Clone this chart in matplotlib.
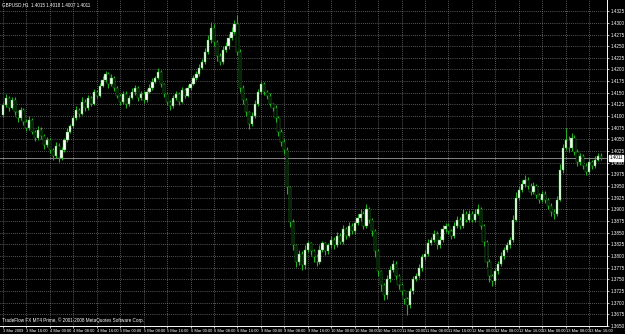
import matplotlib.pyplot as plt

# GBPUSD H1 candlestick chart, MetaTrader style (green on black)
symbol_text = 'GBPUSD,H1  1.4015 1.4018 1.4007 1.4011'
footer_text = 'TradeFlow FX MT4 Prime, \u00a9 2001-2008 MetaQuotes Software Corp.'

first_open = 1.4103
closes = [
    1.4124, 1.4139, 1.4118, 1.4135, 1.4109, 1.4096, 1.4114, 1.4088,
    1.4075, 1.4092, 1.4067, 1.4054, 1.4071, 1.4058, 1.4039, 1.4049,
    1.4028, 1.4015, 1.4037, 1.4011, 1.4028, 1.4049, 1.4067, 1.4079,
    1.4096, 1.4114, 1.4105, 1.4131, 1.4118, 1.4139, 1.4126, 1.4152,
    1.4144, 1.4165, 1.4178, 1.4191, 1.4169, 1.4182, 1.4161, 1.4144,
    1.4131, 1.4148, 1.4126, 1.4139, 1.4152, 1.4161, 1.4139, 1.4148,
    1.4135, 1.4152, 1.4161, 1.4174, 1.4182, 1.4195, 1.4169, 1.4148,
    1.4131, 1.4122, 1.4139, 1.4148, 1.4131, 1.4156, 1.4144, 1.4161,
    1.4169, 1.4182, 1.4191, 1.4203, 1.4216, 1.4238, 1.4263, 1.4289,
    1.4259, 1.4229, 1.4216, 1.4242, 1.4251, 1.4268, 1.4281, 1.4298,
    1.4238, 1.4161, 1.4135, 1.4109, 1.4084, 1.4101, 1.4126, 1.4152,
    1.4169, 1.4152, 1.4144, 1.4126, 1.4118, 1.4096, 1.4067, 1.4045,
    1.4028, 1.3947, 1.3874, 1.3823, 1.3788, 1.3805, 1.3780, 1.3814,
    1.3827, 1.3810, 1.3797, 1.3788, 1.3814, 1.3827, 1.3810, 1.3823,
    1.3835, 1.3823, 1.3844, 1.3831, 1.3857, 1.3844, 1.3865, 1.3853,
    1.3870, 1.3882, 1.3891, 1.3865, 1.3900, 1.3878, 1.3853, 1.3810,
    1.3767, 1.3737, 1.3716, 1.3750, 1.3771, 1.3784, 1.3758, 1.3737,
    1.3724, 1.3707, 1.3694, 1.3724, 1.3750, 1.3758, 1.3775, 1.3797,
    1.3805, 1.3827, 1.3835, 1.3848, 1.3823, 1.3835, 1.3857, 1.3865,
    1.3853, 1.3844, 1.3865, 1.3878, 1.3865, 1.3891, 1.3878, 1.3891,
    1.3878, 1.3891, 1.3900, 1.3865, 1.3831, 1.3788, 1.3758, 1.3746,
    1.3767, 1.3784, 1.3801, 1.3814, 1.3823, 1.3835, 1.3878, 1.3925,
    1.3942, 1.3955, 1.3964, 1.3951, 1.3938, 1.3951, 1.3930, 1.3921,
    1.3934, 1.3921, 1.3908, 1.3895, 1.3891, 1.3921, 1.3985, 1.4032,
    1.4049, 1.4032, 1.4054, 1.4024, 1.4002, 1.4015, 1.3994, 1.3981,
    1.4002, 1.3994, 1.4007, 1.4015, 1.4011,
]

# wick lengths in pips above / below the body
upper_wick = [
    6, 8, 4, 7, 5, 3, 6, 4,
    5, 9, 3, 4, 7, 5, 3, 6,
    4, 3, 8, 5, 6, 4, 7, 5,
    6, 8, 4, 9, 5, 7, 4, 6,
    5, 7, 9, 6, 4, 8, 5, 3,
    4, 6, 5, 7, 8, 6, 4, 5,
    5, 6, 7, 8, 5, 9, 4, 3,
    4, 3, 6, 5, 4, 7, 5, 6,
    5, 7, 6, 8, 6, 9, 10, 12,
    8, 5, 6, 9, 7, 8, 10, 9,
    19, 6, 5, 4, 3, 7, 8, 6,
    7, 5, 4, 6, 3, 5, 4, 6,
    5, 6, 4, 5, 3, 8, 6, 9,
    6, 4, 5, 7, 9, 6, 4, 5,
    7, 5, 8, 6, 9, 5, 8, 6,
    6, 8, 10, 5, 12, 6, 4, 5,
    5, 4, 6, 9, 7, 8, 5, 4,
    5, 4, 6, 8, 7, 6, 9, 8,
    7, 9, 6, 8, 5, 7, 9, 6,
    5, 4, 7, 8, 6, 10, 5, 7,
    6, 9, 11, 5, 4, 3, 5, 4,
    7, 6, 8, 5, 7, 6, 10, 12,
    9, 8, 10, 6, 5, 7, 4, 5,
    6, 5, 4, 5, 6, 8, 12, 9,
    26, 8, 10, 6, 5, 7, 4, 6,
    8, 5, 7, 6, 5,
]
lower_wick = [
    5, 4, 7, 3, 6, 8, 4, 6,
    7, 4, 6, 8, 5, 7, 9, 5,
    8, 10, 5, 9, 6, 4, 5, 3,
    4, 5, 7, 3, 6, 4, 5, 3,
    6, 4, 3, 5, 8, 4, 7, 6,
    7, 4, 8, 5, 3, 6, 7, 4,
    6, 4, 3, 5, 4, 3, 7, 6,
    8, 9, 5, 4, 7, 3, 6, 4,
    4, 3, 5, 4, 3, 4, 5, 6,
    8, 10, 7, 5, 4, 6, 5, 4,
    8, 10, 9, 8, 12, 6, 5, 4,
    5, 6, 7, 5, 8, 9, 10, 8,
    9, 14, 12, 10, 11, 8, 10, 7,
    6, 8, 9, 10, 6, 5, 7, 6,
    5, 7, 4, 6, 5, 7, 4, 6,
    5, 4, 6, 8, 5, 7, 9, 12,
    10, 12, 10, 8, 6, 5, 8, 7,
    8, 10, 20, 6, 5, 4, 5, 6,
    6, 5, 4, 5, 8, 6, 4, 5,
    6, 8, 5, 4, 7, 5, 6, 4,
    5, 4, 3, 7, 9, 12, 14, 10,
    8, 6, 5, 7, 6, 5, 4, 3,
    5, 4, 6, 7, 8, 5, 6, 7,
    6, 8, 7, 9, 12, 5, 4, 6,
    5, 8, 6, 7, 9, 6, 8, 7,
    6, 8, 5, 4, 6,
]

time_labels = [
    '3 Mar 2009', '3 Mar 16:00', '4 Mar 00:00', '4 Mar 08:00', '4 Mar 16:00',
    '5 Mar 00:00', '5 Mar 08:00', '5 Mar 16:00', '6 Mar 00:00', '6 Mar 08:00',
    '6 Mar 16:00', '9 Mar 00:00', '9 Mar 08:00', '9 Mar 16:00', '10 Mar 00:00',
    '10 Mar 08:00', '10 Mar 16:00', '11 Mar 00:00', '11 Mar 08:00', '11 Mar 16:00',
    '12 Mar 00:00', '12 Mar 08:00', '12 Mar 16:00', '13 Mar 00:00', '13 Mar 08:00',
    '13 Mar 16:00',
]
price_ticks = [1.3650 + 0.0025 * k for k in range(28)]
current_price = closes[-1]

plt.rcParams['font.family'] = ['Liberation Sans Narrow', 'Liberation Sans', 'DejaVu Sans']

# build OHLC
opens = [first_open] + closes[:-1]
highs = [max(o, c) + u * 0.0001 for o, c, u in zip(opens, closes, upper_wick)]
lows = [min(o, c) - d * 0.0001 for o, c, d in zip(opens, closes, lower_wick)]
xs = list(range(len(closes)))

green = '#22b022'
fs = 3.3
fig = plt.figure(figsize=(6.25, 3.34), dpi=100, facecolor='black')
ax = fig.add_axes([0, 8 / 334, 607 / 625, 326 / 334], facecolor='black')

ax.vlines(xs, lows, highs, color=green, linewidth=0.8, zorder=2)
bottoms = [min(o, c) for o, c in zip(opens, closes)]
heights = [max(abs(c - o), 0.00006) for o, c in zip(opens, closes)]
body_colors = ['white' if c >= o else 'black' for o, c in zip(opens, closes)]
ax.bar(xs, heights, bottom=bottoms, width=0.78, color=body_colors,
       edgecolor=green, linewidth=0.3, zorder=3)

ax.axhline(current_price, color='#9a9a9a', linewidth=0.6, zorder=1)

ax.set_xlim(-1.0, 206.1)
ax.set_ylim(1.3652, 1.4349)

ax.set_xticks([8 * k for k in range(len(time_labels))])
ax.set_xticklabels(time_labels, ha='left')
ax.set_yticks(price_ticks)
ax.set_yticklabels(['%.4f' % p for p in price_ticks])
ax.yaxis.tick_right()
ax.tick_params(axis='both', colors='white', labelsize=fs, length=1.5,
               width=0.5, pad=0.8)
ax.tick_params(axis='x', labelsize=2.9, pad=0.3)
ax.grid(True, color='#a8a8a8', linestyle=(0, (1, 2)), linewidth=0.5)
ax.set_axisbelow(True)

for side in ['top', 'left']:
    ax.spines[side].set_visible(False)
for side in ['right', 'bottom']:
    ax.spines[side].set_color('white')
    ax.spines[side].set_linewidth(0.7)

ax.text(1.004, current_price, '%.4f' % current_price, transform=ax.get_yaxis_transform(),
        fontsize=fs, color='black', va='center', ha='left',
        bbox=dict(boxstyle='square,pad=0.12', facecolor='white', edgecolor='white'),
        clip_on=False, zorder=5)
ax.text(0.004, 0.993, symbol_text, transform=ax.transAxes, color='white',
        fontsize=fs, va='top', ha='left')
ax.text(0.004, 0.008, footer_text, transform=ax.transAxes, color='white',
        fontsize=fs, va='bottom', ha='left')

plt.savefig('out.png', dpi=100, facecolor='black')
